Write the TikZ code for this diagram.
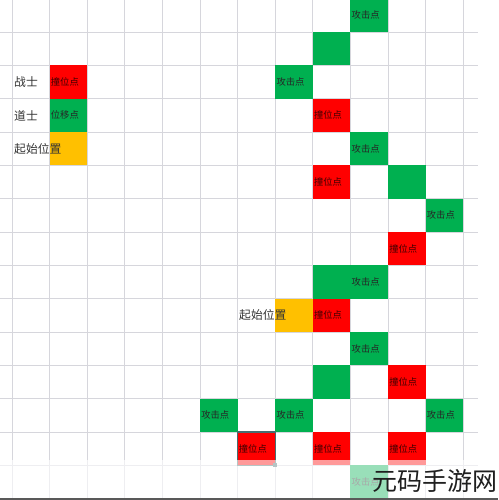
\documentclass[tikz,border=0pt]{standalone}
\usepackage{fontspec}
\newfontfamily\cjk{Noto Sans CJK SC}
\definecolor{xred}{RGB}{255,0,0}
\definecolor{xgreen}{RGB}{0,176,80}
\definecolor{xyellow}{RGB}{255,192,0}
\definecolor{xgrid}{RGB}{214,214,220}
\definecolor{xsel}{RGB}{70,110,112}
\tikzset{
  cellbox/.style={anchor=north west, minimum width=37.6pt, minimum height=33.33pt,
    text width=35pt, align=left, inner xsep=1.3pt, inner ysep=0pt, outer sep=0pt,
    font=\cjk\fontsize{9.3}{10}\selectfont},
  redcell/.style={cellbox, fill=xred, text=black!75!red},
  greencell/.style={cellbox, fill=xgreen, text=black!85},
  yellowcell/.style={cellbox, fill=xyellow},
  label/.style={anchor=west, inner sep=0pt, text=black!80, font=\cjk\fontsize{11.8}{12}\selectfont},
  gridline/.style={draw=xgrid, line width=0.8pt},
}
\newcommand{\cpos}[2]{({12+37.6*#1},{-1.33+33.33*#2})}
\begin{document}
\begin{tikzpicture}[x=1pt,y=-1pt]
\useasboundingbox (0,0) rectangle (498,500);
\fill[white] (0,0) rectangle (498,500);
% grid
\foreach \k in {0,...,12} \draw[gridline] ({12+37.6*\k},0) -- ({12+37.6*\k},498);
\foreach \k in {0,...,14} \draw[gridline] (0,{32+33.33*\k}) -- (478,{32+33.33*\k});
% legend
\node[redcell] (l1) at \cpos{1}{2} {撞位点};
\node[greencell] (l2) at \cpos{1}{3} {位移点};
\node[yellowcell] (l3) at \cpos{1}{4} {};
\node[label] (t1) at (14,82) {战士};
\node[label] (t2) at (14,115.5) {道士};
\node[label] (t3) at (14,149) {起始位置};
% main cells
\node[greencell] (c90) at \cpos{9}{0} {攻击点};
\node[greencell] (c81) at \cpos{8}{1} {};
\node[greencell] (c72) at \cpos{7}{2} {攻击点};
\node[redcell] (c83) at \cpos{8}{3} {撞位点};
\node[greencell] (c94) at \cpos{9}{4} {攻击点};
\node[redcell] (c85) at \cpos{8}{5} {撞位点};
\node[greencell] (c105) at \cpos{10}{5} {};
\node[greencell] (c116) at \cpos{11}{6} {攻击点};
\node[redcell] (c107) at \cpos{10}{7} {撞位点};
\node[greencell] (c88) at \cpos{8}{8} {};
\node[greencell] (c98) at \cpos{9}{8} {攻击点};
\node[yellowcell] (c79) at \cpos{7}{9} {};
\node[redcell] (c89) at \cpos{8}{9} {撞位点};
\node[greencell] (c910) at \cpos{9}{10} {攻击点};
\node[greencell] (c811) at \cpos{8}{11} {};
\node[redcell] (c1011) at \cpos{10}{11} {撞位点};
\node[greencell] (c512) at \cpos{5}{12} {攻击点};
\node[greencell] (c712) at \cpos{7}{12} {攻击点};
\node[greencell] (c1112) at \cpos{11}{12} {攻击点};
\node[redcell] (c613) at \cpos{6}{13} {撞位点};
\node[redcell] (c813) at \cpos{8}{13} {撞位点};
\node[redcell] (c1013) at \cpos{10}{13} {撞位点};
\node[greencell] (c914) at \cpos{9}{14} {攻击点};
\node[label] (t4) at (239,315.5) {起始位置};
% selection
\draw[xsel, line width=1.2pt] (c613.north west) rectangle (c613.south east);
\fill[xsel] ([xshift=-2pt,yshift=2pt]c613.south east) rectangle ([xshift=2pt,yshift=-2pt]c613.south east);
% fade
\fill[white, opacity=0.6] (0,460) rectangle (498,498);
% bottom line
\fill[black!65] (0,498) rectangle (498,500);
% watermark
\node[anchor=base west, inner sep=0pt, text=black!88, font=\cjk\fontsize{25}{25}\selectfont] (wm) at (372,490) {元码手游网};
\end{tikzpicture}
\end{document}
